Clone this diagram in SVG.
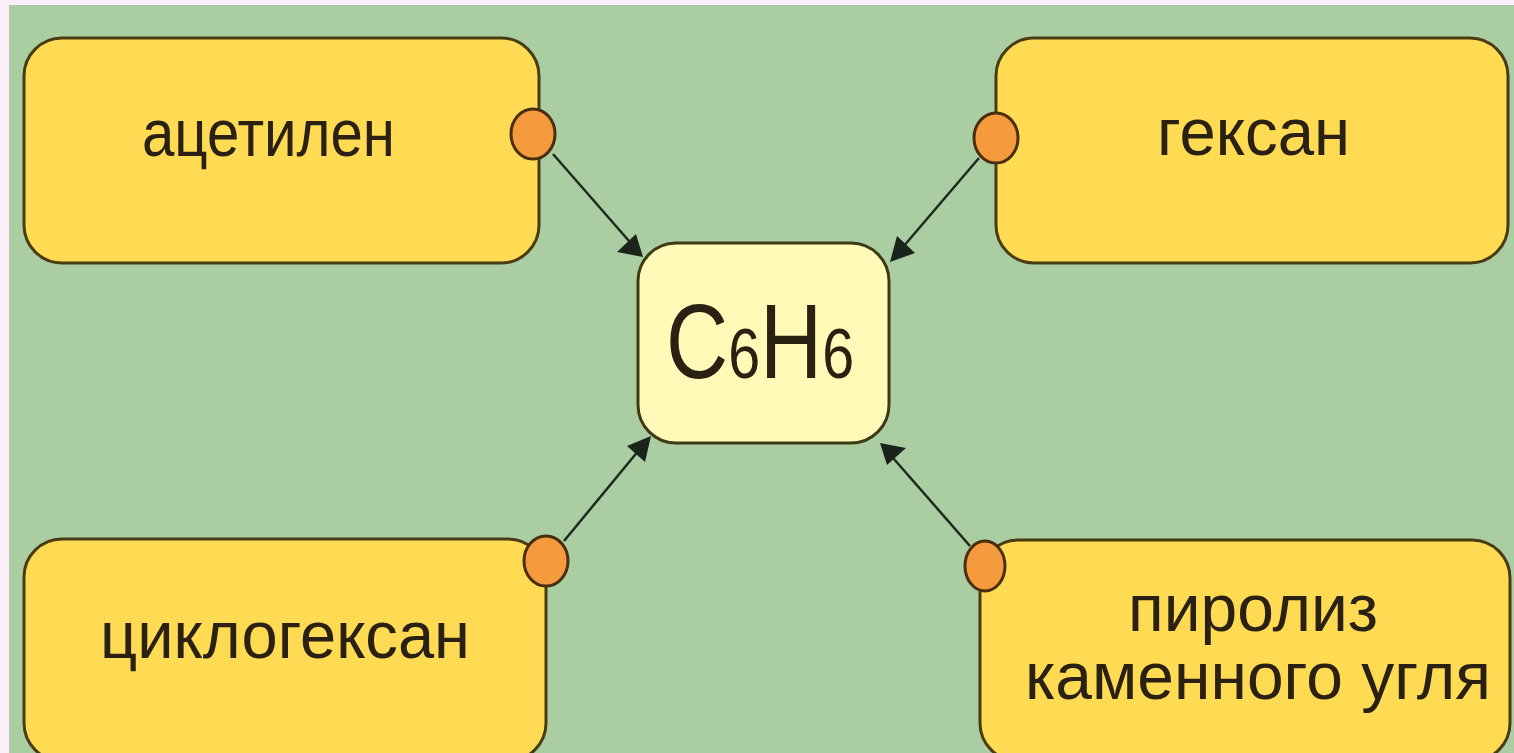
<svg xmlns="http://www.w3.org/2000/svg" width="1514" height="753" viewBox="0 0 1514 753">
<style>
.box{fill:#fedb52;stroke:#4a3c12;stroke-width:3}
.center{fill:#fffab8;stroke:#3e3a14;stroke-width:3}
.dot{fill:#f59b3e;stroke:#4a2e10;stroke-width:3}
.lbl{font-family:"Liberation Sans",Arial,sans-serif;font-size:66px;fill:#2b2112}
.conn{stroke:#1e2a1e;stroke-width:2.5;fill:none}
.head{fill:#1a241a}
</style>
<rect x="0" y="0" width="1514" height="753" fill="#fdeefd"/>
<rect x="9" y="5" width="1505" height="748" fill="#aacda2"/>
<g id="connectors">
<line class="conn" x1="553" y1="154" x2="636" y2="249"/>
<path class="head" d="M643,257 L617,252 L636,234 z"/>
<line class="conn" x1="979" y1="158" x2="897" y2="254"/>
<path class="head" d="M890,262 L897,236 L915,253 z"/>
<line class="conn" x1="564" y1="541" x2="644" y2="444"/>
<path class="head" d="M651,436 L645,462 L627,446 z"/>
<line class="conn" x1="970" y1="546" x2="887" y2="451"/>
<path class="head" d="M880,443 L906,448 L887,465 z"/>
</g>
<g id="node-acetylene">
<rect class="box" x="24" y="38" width="515" height="225" rx="38" ry="38"/>
<ellipse class="dot" cx="533" cy="134" rx="22" ry="25"/>
<text class="lbl" x="142" y="156" textLength="253" lengthAdjust="spacingAndGlyphs">ацетилен</text>
</g>
<g id="node-hexane">
<rect class="box" x="996" y="38" width="512" height="225" rx="38" ry="38"/>
<ellipse class="dot" cx="996" cy="138" rx="22" ry="25"/>
<text class="lbl" x="1157" y="155" textLength="193" lengthAdjust="spacingAndGlyphs">гексан</text>
</g>
<g id="node-cyclohexane">
<rect class="box" x="24" y="539" width="522" height="222" rx="38" ry="38"/>
<ellipse class="dot" cx="546" cy="561" rx="22" ry="25"/>
<text class="lbl" x="100" y="658" textLength="370" lengthAdjust="spacingAndGlyphs">циклогексан</text>
</g>
<g id="node-pyrolysis">
<rect class="box" x="980" y="540" width="530" height="221" rx="38" ry="38"/>
<ellipse class="dot" cx="985" cy="566" rx="20" ry="25"/>
<text class="lbl" x="1128" y="631" textLength="250" lengthAdjust="spacingAndGlyphs" font-size="60">пиролиз</text>
<text class="lbl" x="1025" y="699" textLength="466" lengthAdjust="spacingAndGlyphs" font-size="60">каменного угля</text>
</g>
<g id="node-benzene">
<rect class="center" x="638" y="243" width="251" height="200" rx="38" ry="38"/>
<text class="lbl" transform="translate(666,378) scale(0.82,1)" x="0" y="0"><tspan font-size="105">C</tspan><tspan font-size="70">6</tspan><tspan font-size="105">H</tspan><tspan font-size="70">6</tspan></text>
</g>
</svg>
